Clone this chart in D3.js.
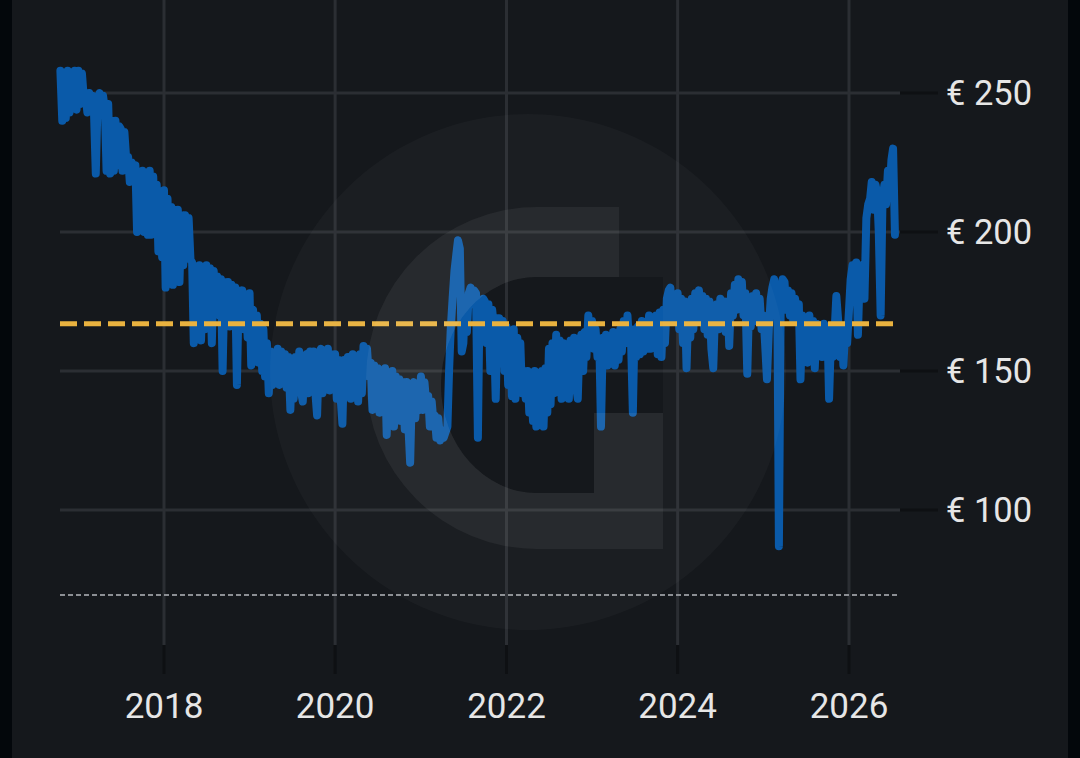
<!DOCTYPE html>
<html>
<head>
<meta charset="utf-8">
<script src="https://cdn.jsdelivr.net/npm/d3@7"></script>
<style>
  html, body { margin: 0; padding: 0; background: #15181c; }
  svg { display: block; }
</style>
</head>
<body>
<div id="chart"></div>
<script>
// weekly prices (1st, 8th, 16th, 24th of each month)
const prices2016 = [258, 240, 257, 241, 258, 243, 256, 245, 258, 244]; // from 16 Oct 2016
const prices2017 = [
  258, 246, 257, 248,  249, 243, 250, 244,  249, 244, 221, 248,  250, 243, 249, 244,
  222, 246, 221, 240,  222, 240, 224, 238,  237, 222, 236, 226,  227, 218, 225, 219,
  224, 200, 221, 201,  222, 200, 221, 199,  222, 199, 220, 200,  217, 193, 214, 191];
const prices2018 = [
  215, 180, 212, 186,  209, 181, 208, 184,  208, 182, 206, 188,  206, 192, 205, 190,
  189, 160, 186, 162,  188, 161, 186, 165,  188, 170, 187, 160,  186, 176, 184, 170,
  183, 150, 182, 172,  182, 166, 181, 170,  180, 145, 179, 168,  179, 165, 177, 162];
const prices2019 = [
  178, 152, 172, 158,  170, 153, 167, 150,  165, 148, 160, 142,  157, 145, 156, 146,
  158, 145, 157, 147,  156, 144, 155, 136,  154, 140, 155, 144,  157, 143, 139, 155,
  156, 142, 157, 144,  157, 143, 134, 156,  158, 142, 157, 145,  158, 143, 156, 144];
const prices2020 = [
  156, 140, 154, 141,  131, 154, 141, 155,  155, 140, 156, 141,  155, 139, 156, 142,
  159, 150, 158, 148,  153, 136, 152, 138,  151, 135, 150, 136,  151, 127, 149, 132,
  150, 130, 148, 133,  147, 132, 146, 129,  146, 131, 117, 145,  146, 133, 145, 136];
const prices2021 = [
  148, 136, 146, 138,  141, 130, 139, 131,  134, 126, 133, 125,  127, 126, 128, 130,
  150, 165, 176, 186,  192, 197, 194, 157,  160, 176, 164, 178,  180, 174, 179, 178,
  126, 175, 173, 176,  175, 160, 174, 150,  172, 166, 140, 169,  169, 158, 168, 150];
const prices2022 = [
  166, 145, 164, 141,  165, 140, 162, 155,  160, 142, 150, 140,  150, 135, 149, 132,
  150, 130, 149, 131,  150, 130, 151, 135,  158, 138, 160, 142,  163, 145, 161, 140,
  160, 145, 158, 140,  161, 148, 162, 145,  140, 160, 163, 150,  164, 155, 170, 160];
const prices2023 = [
  168, 158, 165, 155,  160, 130, 162, 152,  163, 152, 162, 153,  164, 152, 163, 154,
  165, 157, 168, 160,  170, 160, 162, 135,  165, 155, 166, 156,  168, 157, 167, 158,
  170, 158, 169, 160,  170, 156, 171, 155,  172, 160, 176, 179,  180, 168, 177, 170];
const prices2024 = [
  178, 165, 176, 160,  175, 151, 174, 162,  176, 165, 178, 168,  179, 168, 177, 165,
  176, 163, 175, 158,  151, 170, 174, 165,  176, 167, 175, 164,  175, 159, 178, 170,
  181, 172, 183, 175,  182, 170, 178, 149,  175, 166, 177, 168,  178, 168, 176, 165];
const prices2025 = [
  170, 160, 147, 165,  176, 180, 183, 178,  181, 87, 178, 183,  182, 172, 179, 170,
  178, 168, 176, 170,  174, 147, 170, 160,  169, 153, 170, 155,  168, 151, 167, 156,
  166, 155, 167, 158,  166, 140, 162, 155,  165, 177, 168, 155,  166, 152, 165, 160];
const prices2026 = [
  172, 183, 188, 178,  189, 163, 186, 188,  182, 176, 205, 210,  212, 218, 208, 217,
  214, 200, 170, 212,  217, 210, 222, 215,  226, 230, 199]; // to 16 Jul 2026

const averagePrice = 167;
const floorPrice = 69.4;
const yTicks = [100, 150, 200, 250];
const xTicks = [2018, 2020, 2022, 2024, 2026];
const slotDays = [1, 8, 16, 24];

const width = 1080, height = 758;

// weekly slot -> date (slot 0 = 1 Jan 2016)
const slotDate = s => new Date(2016 + Math.floor(s / 48), Math.floor((s % 48) / 4), slotDays[s % 4]);

const allPrices = [].concat(prices2016, prices2017, prices2018, prices2019, prices2020,
  prices2021, prices2022, prices2023, prices2024, prices2025, prices2026);
const data = allPrices.map((v, i) => ({ date: slotDate(38 + i), value: v }));

const svg = d3.select("#chart").append("svg")
  .attr("width", width)
  .attr("height", height);

svg.append("rect").attr("width", width).attr("height", height).attr("fill", "#15181c");
svg.append("rect").attr("x", 0).attr("y", 0).attr("width", 12).attr("height", height).attr("fill", "#03070b");
svg.append("rect").attr("x", 1068).attr("y", 0).attr("width", 12).attr("height", height).attr("fill", "#03070b");

const x = d3.scaleTime()
  .domain([new Date(2018, 0, 1), new Date(2026, 0, 1)])
  .range([164, 849]);
const y = d3.scaleLinear()
  .domain([100, 250])
  .range([510, 93]);

const gridColor = "#2b2e33";
const tickColor = "#0e1013";
const left = 60, right = 900;

// horizontal grid + tick stubs
const yg = svg.append("g").attr("class", "y-grid");
yg.selectAll("line.grid").data(yTicks).enter().append("line")
  .attr("class", "grid")
  .attr("x1", left).attr("x2", right)
  .attr("y1", d => y(d)).attr("y2", d => y(d))
  .attr("stroke", gridColor).attr("stroke-width", 3);
yg.selectAll("line.tick").data(yTicks).enter().append("line")
  .attr("class", "tick")
  .attr("x1", right).attr("x2", 938)
  .attr("y1", d => y(d)).attr("y2", d => y(d))
  .attr("stroke", tickColor).attr("stroke-width", 3);

// vertical grid + tick stubs
const xg = svg.append("g").attr("class", "x-grid");
xg.selectAll("line.grid").data(xTicks).enter().append("line")
  .attr("class", "grid")
  .attr("x1", d => x(new Date(d, 0, 1))).attr("x2", d => x(new Date(d, 0, 1)))
  .attr("y1", 0).attr("y2", 645)
  .attr("stroke", gridColor).attr("stroke-width", 3);
xg.selectAll("line.tick").data(xTicks).enter().append("line")
  .attr("class", "tick")
  .attr("x1", d => x(new Date(d, 0, 1))).attr("x2", d => x(new Date(d, 0, 1)))
  .attr("y1", 645).attr("y2", 674)
  .attr("stroke", tickColor).attr("stroke-width", 3);

// dotted floor line
svg.append("line")
  .attr("x1", left).attr("x2", right)
  .attr("y1", y(floorPrice)).attr("y2", y(floorPrice))
  .attr("stroke", "#8c8f94").attr("stroke-width", 2)
  .attr("stroke-dasharray", "5,3");

// price line
svg.append("path")
  .datum(data)
  .attr("fill", "none")
  .attr("stroke", "#0a5aa9")
  .attr("stroke-width", 8)
  .attr("stroke-linejoin", "round")
  .attr("stroke-linecap", "round")
  .attr("d", d3.line()
    .x(d => x(d.date))
    .y(d => y(d.value)));

// average dashed line
svg.append("line")
  .attr("x1", left).attr("x2", 893)
  .attr("y1", y(averagePrice)).attr("y2", y(averagePrice))
  .attr("stroke", "#e9b23f").attr("stroke-width", 5)
  .attr("stroke-dasharray", "17,7");

// watermark on top
const wm = svg.append("g").attr("pointer-events", "none");
const hole = "M537,277 A96,108 0 0 0 537,493 L594,493 L594,413 L663,413 L663,277 Z";
wm.append("path")
  .attr("d", "M528,114 A258,258 0 1 0 528.1,114 Z " + hole)
  .attr("fill-rule", "evenodd")
  .attr("fill", "#ffffff").attr("fill-opacity", 0.028);
wm.append("path")
  .attr("d", "M619,207 L537,207 A171,171 0 0 0 537,549 L663,549 L663,413 L594,413 L594,493 L537,493 A96,108 0 0 1 537,277 L619,277 Z")
  .attr("fill", "#ffffff").attr("fill-opacity", 0.055);

// labels
const font = "Roboto, 'Noto Sans', sans-serif";
svg.append("g").selectAll("text").data(yTicks).enter().append("text")
  .attr("x", 946)
  .attr("y", d => y(d) + 12)
  .attr("fill", "#e6e6e6")
  .attr("font-family", font)
  .attr("font-size", 34.5)
  .text(d => "€ " + d);

svg.append("g").selectAll("text").data(xTicks).enter().append("text")
  .attr("x", d => x(new Date(d, 0, 1)))
  .attr("y", 718)
  .attr("text-anchor", "middle")
  .attr("fill", "#e6e6e6")
  .attr("font-family", font)
  .attr("font-size", 35)
  .text(d => d);
</script>
</body>
</html>
